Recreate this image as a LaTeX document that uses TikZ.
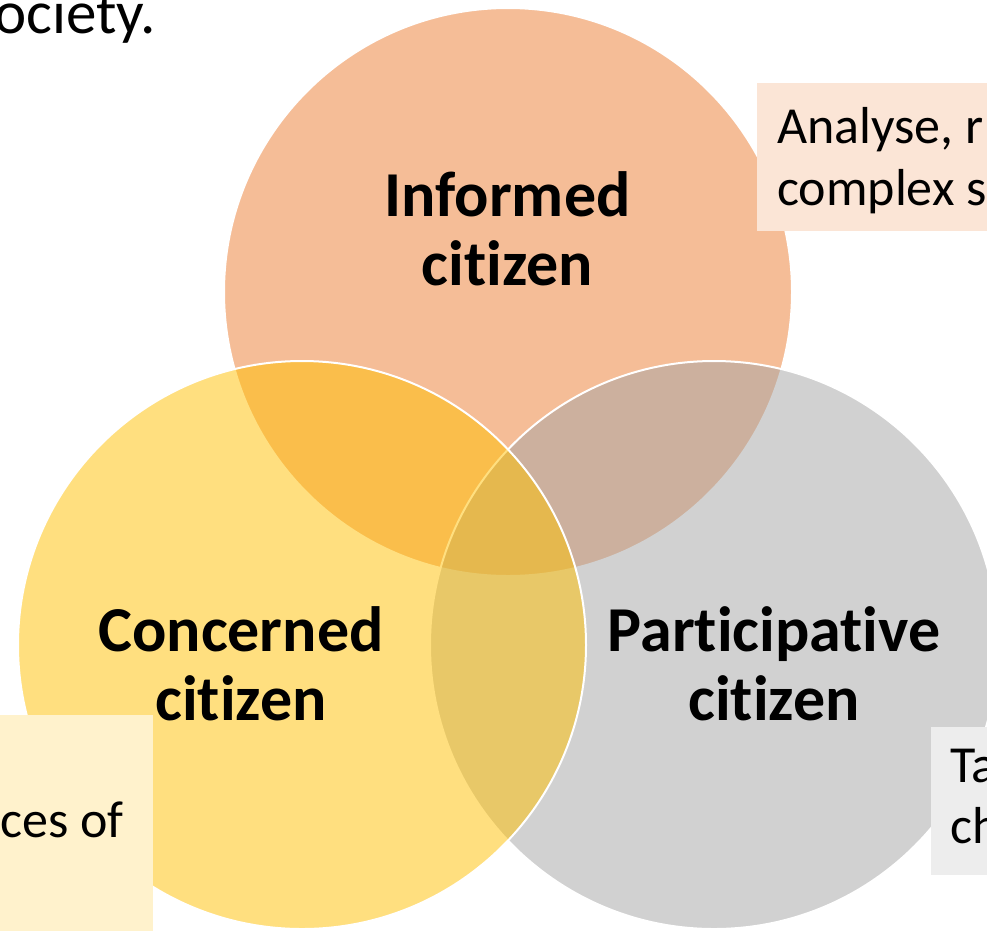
\documentclass[tikz,border=0pt]{standalone}
\usepackage{fontspec}
\setmainfont{Carlito}[Ligatures=NoCommon]
\definecolor{vorange}{HTML}{ED7D31}
\definecolor{vgray}{HTML}{A5A5A5}
\definecolor{vyellow}{HTML}{FFC000}
\definecolor{boxorange}{HTML}{FBE5D6}
\definecolor{boxyellow}{HTML}{FFF2CC}
\definecolor{boxgray}{HTML}{EDEDED}
\begin{document}
\begin{tikzpicture}[x=1pt,y=-1pt,
  venn/.style={draw=white, line width=2pt, fill opacity=0.5},
  biglabel/.style={font=\fontsize{64}{70}\selectfont\bfseries, anchor=base, inner sep=0pt},
  notetext/.style={font=\fontsize{52}{62}\selectfont, inner sep=0pt},
  toptext/.style={font=\fontsize{61}{72}\selectfont, inner sep=0pt}]
\useasboundingbox (0,0) rectangle (987,930);
\clip (0,0) rectangle (987,930);
\fill[white] (0,0) rectangle (987,930);
% circles
\filldraw[venn, fill=vorange] (508,292) circle[radius=284pt];
\filldraw[venn, fill=vgray] (714,645) circle[radius=284pt];
\filldraw[venn, fill=vyellow] (302,645) circle[radius=284pt];
% text boxes
\fill[boxorange] (757,83) rectangle (1000,231);
\fill[boxyellow] (-10,715) rectangle (153,940);
\fill[boxgray] (931,727) rectangle (1000,875);
% top text
\node[toptext, anchor=base east] (soc) at (156,33) {society.};
% box texts
\node[notetext, anchor=base west] (ana) at (777,143) {Analyse, r};
\node[notetext, anchor=base west] (comp) at (777,205) {complex s};
\node[notetext, anchor=base east] (ces) at (124,837) {ces of};
\node[notetext, anchor=base west] (ta) at (950,782) {Ta};
\node[notetext, anchor=base west] (ch) at (950,843) {ch};
% circle labels
\node[biglabel] (inf1) at (507.5,216) {Informed};
\node[biglabel] (inf2) at (507.5,285) {citizen};
\node[biglabel] (con1) at (241,651) {Concerned};
\node[biglabel] (con2) at (241,720) {citizen};
\node[biglabel] (par1) at (774,651) {Participative};
\node[biglabel] (par2) at (774,720) {citizen};
\end{tikzpicture}
\end{document}
